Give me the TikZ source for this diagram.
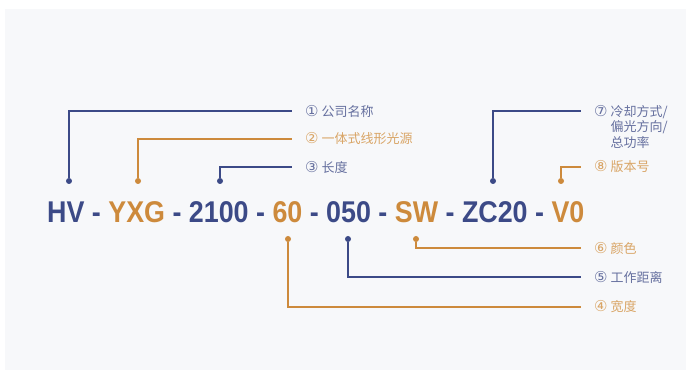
\documentclass[tikz,border=0pt]{standalone}
\usepackage{fontspec}
\usepackage{graphicx}
\setmainfont{Liberation Sans}
\newfontfamily\cjk{Noto Sans CJK SC}
\newfontfamily\circf{DejaVu Sans}
\definecolor{bgc}{HTML}{F7F8FA}
\definecolor{cb}{HTML}{3C4A87}
\definecolor{co}{HTML}{CD8A3C}
\definecolor{tb}{HTML}{66709F}
\definecolor{to}{HTML}{D9A566}
\newcommand{\cn}[1]{{\circf\fontsize{15}{16}\selectfont #1}}
\tikzset{
  dotb/.style={circle,fill=cb,inner sep=0pt,minimum size=6pt},
  doto/.style={circle,fill=co,inner sep=0pt,minimum size=6pt},
  lb/.style={draw=cb,line width=1.2pt},
  lo/.style={draw=co,line width=1.2pt},
  lab/.style={anchor=west,inner sep=0pt,font=\cjk\fontsize{13}{15.7}\selectfont},
  labb/.style={lab,text=tb},
  labo/.style={lab,text=to},
}
\begin{document}
\begin{tikzpicture}[x=1pt,y=-1pt]
\useasboundingbox (0,0) rectangle (686,371);
\fill[bgc] (5,9) rectangle (686,370.5);
% code string
\node[anchor=base west,inner sep=0pt,font=\bfseries\fontsize{30}{30}\selectfont] (code) at (47,222.3)
 {\scalebox{0.895}[1]{\textcolor{cb}{HV} \textcolor{cb}{-} \textcolor{co}{YXG} \textcolor{cb}{-} \textcolor{cb}{2100} \textcolor{cb}{-} \textcolor{co}{60} \textcolor{cb}{-} \textcolor{cb}{050} \textcolor{cb}{-} \textcolor{co}{SW} \textcolor{cb}{-} \textcolor{cb}{ZC20} \textcolor{cb}{-} \textcolor{co}{V0}}};
% dots
\node[dotb] (d1) at (69,181) {};
\node[doto] (d2) at (138,181) {};
\node[dotb] (d3) at (220,181) {};
\node[dotb] (d7) at (493,181) {};
\node[doto] (d8) at (561,181) {};
\node[doto] (d4) at (288,239) {};
\node[dotb] (d5) at (348,239) {};
\node[doto] (d6) at (416,239) {};
% line ends
\coordinate (e1) at (292,111);
\coordinate (e2) at (292,139);
\coordinate (e3) at (292,167);
\coordinate (e7) at (581,111);
\coordinate (e8) at (581,167);
\coordinate (e6) at (581,248);
\coordinate (e5) at (581,277);
\coordinate (e4) at (581,307);
% labels
\node[labb] (l1) at (305,111) {\cn{①} 公司名称};
\node[labo] (l2) at (305,139) {\cn{②} 一体式线形光源};
\node[labb] (l3) at (305,167) {\cn{③} 长度};
\node[labb,anchor=north west,align=left] (l7) at (594,105) {\cn{⑦} 冷却方式/\\\hphantom{\cn{⑦} }偏光方向/\\\hphantom{\cn{⑦} }总功率};
\node[labo] (l8) at (594,167) {\cn{⑧} 版本号};
\node[labo] (l6) at (594,248) {\cn{⑥} 颜色};
\node[labb] (l5) at (594,277) {\cn{⑤} 工作距离};
\node[labo] (l4) at (594,307) {\cn{④} 宽度};
% connectors
\draw[lb] (d1) |- (e1);
\draw[lo] (d2) |- (e2);
\draw[lb] (d3) |- (e3);
\draw[lb] (d7) |- (e7);
\draw[lo] (d8) |- (e8);
\draw[lo] (d6) |- (e6);
\draw[lb] (d5) |- (e5);
\draw[lo] (d4) |- (e4);
\end{tikzpicture}
\end{document}
